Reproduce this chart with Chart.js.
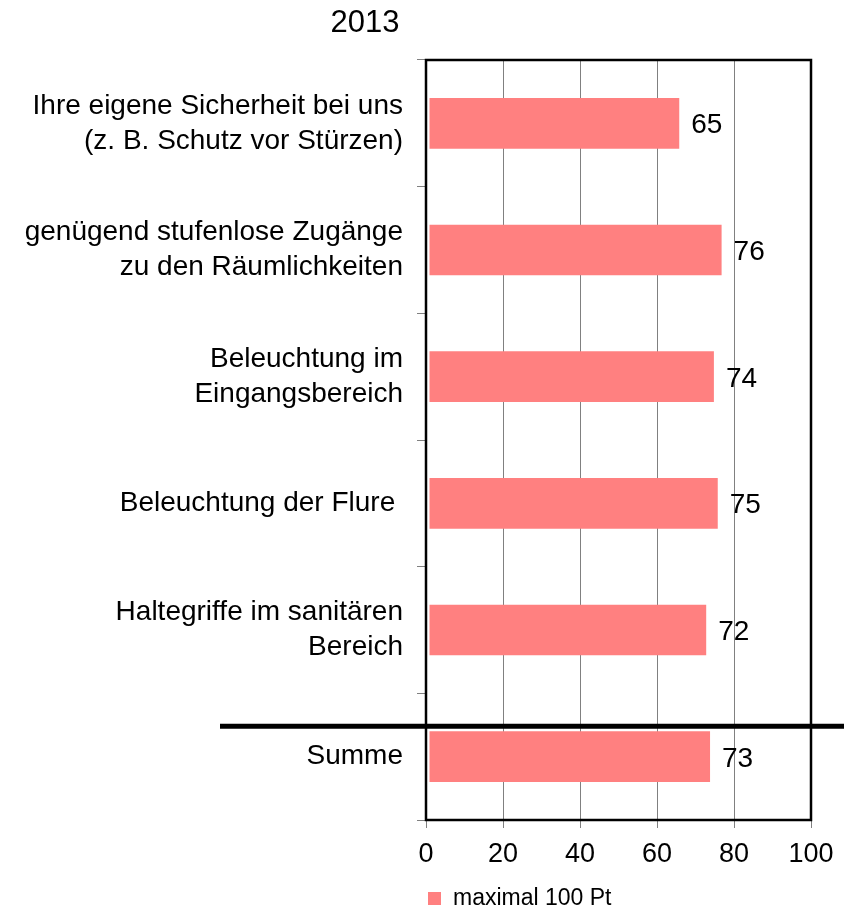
<!DOCTYPE html>
<html><head><meta charset="utf-8">
<script src="https://cdn.jsdelivr.net/npm/chart.js@4/dist/chart.umd.min.js"></script>
<style>html,body{margin:0;padding:0;background:#fff;}#wrap{width:844px;height:907px;position:relative}</style>
</head><body><div id="wrap"><canvas id="c" width="844" height="907"></canvas></div>
<script>
const titleText = "2013";
const categories = [
  ["Ihre eigene Sicherheit bei uns", "(z. B. Schutz vor Stürzen)"],
  ["genügend stufenlose Zugänge", "zu den Räumlichkeiten"],
  ["Beleuchtung im", "Eingangsbereich"],
  ["Beleuchtung der Flure "],
  ["Haltegriffe im sanitären", "Bereich"],
  ["Summe"]
];
const seriesLabel = "maximal 100 Pt";
const values = [65, 76, 74, 75, 72, 73];
const xTickValues = [0, 20, 40, 60, 80, 100];

const FONT = "'Liberation Sans', Arial, sans-serif";
const BAR_COLOR = "#FF8080";
Chart.defaults.font.family = FONT;
Chart.defaults.color = "#000";

const decor = {
  id: "decor",
  beforeDatasetsDraw(chart) { chart.ctx.save(); chart.ctx.translate(3, 0); },
  afterDatasetsDraw(chart) {
    const ctx = chart.ctx;
    ctx.restore();
    const a = chart.chartArea;
    ctx.save();
    ctx.strokeStyle = "#000";
    ctx.lineWidth = 2.5;
    ctx.strokeRect(a.left, a.top, a.right - a.left, a.bottom - a.top);
    // separator before "Summe"
    const ys = chart.scales.y;
    const p5 = ys.getPixelForValue(5), p4 = ys.getPixelForValue(4);
    const sy = p5 - 0.24 * (p5 - p4);
    ctx.lineWidth = 5;
    ctx.beginPath(); ctx.moveTo(220, sy); ctx.lineTo(chart.width, sy); ctx.stroke();
    // value labels
    ctx.fillStyle = "#000";
    ctx.font = "28px " + FONT;
    ctx.textAlign = "left"; ctx.textBaseline = "alphabetic";
    chart.getDatasetMeta(0).data.forEach((bar, i) => {
      ctx.fillText(String(values[i]), bar.x + 3 + 12, bar.y + 10);
    });
    // title
    ctx.font = "31px " + FONT;
    ctx.textAlign = "center";
    ctx.fillText(titleText, 365, 32);
    // legend
    ctx.fillStyle = BAR_COLOR;
    ctx.fillRect(428, 892, 13, 13);
    ctx.fillStyle = "#000";
    ctx.font = "23px " + FONT;
    ctx.textAlign = "left";
    ctx.fillText(chart.data.datasets[0].label, 453, 905);
    ctx.restore();
  }
};

new Chart(document.getElementById("c"), {
  type: "bar",
  data: {
    labels: categories,
    datasets: [{
      label: seriesLabel,
      data: values,
      backgroundColor: BAR_COLOR,
      borderWidth: 0,
      barPercentage: 0.4,
      categoryPercentage: 1.0
    }]
  },
  options: {
    indexAxis: "y",
    responsive: false,
    animation: false,
    devicePixelRatio: 1,
    layout: { padding: { top: 60, right: 33, left: 0, bottom: 0 } },
    plugins: { legend: { display: false }, title: { display: false }, tooltip: { enabled: false } },
    scales: {
      x: {
        min: 0, max: 100,
        afterBuildTicks: s => { s.ticks = xTickValues.map(v => ({ value: v })); },
        ticks: { font: { size: 27 }, color: "#000", padding: 10 },
        grid: { color: "#808080", lineWidth: 1, tickLength: 8, drawOnChartArea: true },
        border: { display: false },
        afterFit: s => { s.height = 87; }
      },
      y: {
        ticks: { font: { size: 28, lineHeight: 1.25 }, color: "#000", padding: 14 },
        grid: { drawOnChartArea: false, tickLength: 9, color: "#808080", offset: true },
        border: { display: false },
        afterFit: s => { s.width = 426; }
      }
    }
  },
  plugins: [decor]
});
</script>
</body></html>
